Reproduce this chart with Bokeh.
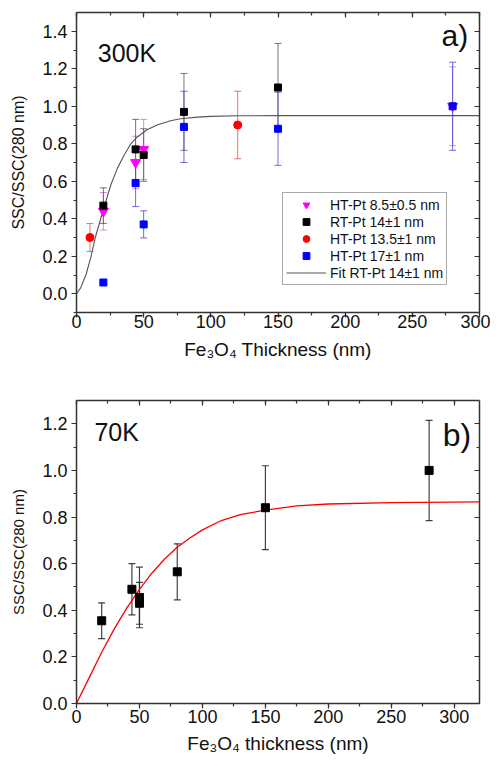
from bokeh.plotting import figure
from bokeh.models import (ColumnDataSource, Whisker, TeeHead, Legend, LegendItem, Label,
                          LinearAxis, Range1d, SingleIntervalTicker, PrintfTickFormatter)
from bokeh.layouts import column
from bokeh.embed import file_html
from bokeh.resources import INLINE

# ---------------- Panel a (300K) data ----------------
ht85_x = [20, 44, 50, 280]
ht85_y = [0.44, 0.70, 0.77, 1.00]
ht85_err = [0.10, 0.14, 0.16, 0.21]

rt14_x = [20, 44, 50, 80, 150]
rt14_y = [0.47, 0.77, 0.74, 0.97, 1.10]
rt14_err = [0.095, 0.16, 0.14, 0.205, 0.235]

ht135_x = [10, 120]
ht135_y = [0.30, 0.90]
ht135_err = [0.075, 0.18]

ht17_x = [20, 44, 50, 80, 150, 280]
ht17_y = [0.06, 0.59, 0.37, 0.89, 0.88, 1.00]
ht17_err = [0.0, 0.125, 0.072, 0.19, 0.195, 0.235]

fit_a_x = [0, 3, 7, 10.5, 14, 18, 20.5, 25.5, 30.5, 35.5, 40, 45, 52.5, 60, 70, 77.5, 90, 100, 120, 150, 200, 300]
fit_a_y = [0.0, 0.03, 0.10, 0.19, 0.30, 0.40, 0.46, 0.58, 0.67, 0.74, 0.795, 0.835, 0.875, 0.90, 0.923, 0.933, 0.942, 0.946, 0.949, 0.95, 0.95, 0.95]

# ---------------- Panel b (70K) data ----------------
b_x = [20, 44, 50, 50, 80, 150, 280]
b_y = [0.355, 0.49, 0.455, 0.43, 0.565, 0.84, 1.00]
b_err = [0.077, 0.11, 0.13, 0.09, 0.12, 0.18, 0.215]

fit_b_x = [0, 10, 20, 30, 40, 50, 60, 70, 80, 90, 100, 115, 130, 150, 175, 200, 250, 320]
fit_b_y = [0, 0.11, 0.22, 0.32, 0.41, 0.49, 0.56, 0.62, 0.67, 0.71, 0.745, 0.785, 0.81, 0.83, 0.848, 0.856, 0.862, 0.865]

FONT = "Liberation Sans"
AXC = "#333333"
TXT = "#111111"


def style(p, xint, yint, xlabel, ylabel_size, x_standoff, x_title_standoff):
    p.xgrid.visible = False
    p.ygrid.visible = False
    p.outline_line_color = None
    p.background_fill_color = "white"
    p.border_fill_color = "white"
    xt = SingleIntervalTicker(interval=xint, num_minor_ticks=2)
    yt = SingleIntervalTicker(interval=yint, num_minor_ticks=2)
    xa = p.xaxis[0]
    ya = p.yaxis[0]
    xa.ticker = xt
    ya.ticker = yt
    ya.formatter = PrintfTickFormatter(format="%.1f")
    for a in (xa, ya):
        a.axis_line_color = AXC
        a.axis_line_width = 1.5
        a.major_tick_line_color = AXC
        a.minor_tick_line_color = AXC
        a.major_tick_line_width = 1.2
        a.minor_tick_line_width = 1.2
        a.major_tick_out = 5
        a.major_tick_in = 0
        a.minor_tick_out = 3
        a.minor_tick_in = 0
        a.major_label_text_font = FONT
        a.major_label_text_font_size = "18px"
        a.major_label_text_color = TXT
        a.axis_label_text_font = FONT
        a.axis_label_text_font_style = "normal"
        a.axis_label_text_color = TXT
    xa.axis_label_text_font_size = "19px"
    ya.axis_label_text_font_size = ylabel_size
    xa.major_label_standoff = x_standoff
    ya.major_label_standoff = 4
    xa.axis_label = xlabel
    ya.axis_label = "SSC/SSC(280 nm)"
    xa.axis_label_standoff = x_title_standoff
    ya.axis_label_standoff = 12
    for loc, tk in (("above", xt), ("right", yt)):
        ax = LinearAxis(ticker=tk, axis_line_color=AXC, axis_line_width=1.5,
                        major_tick_line_color=AXC, minor_tick_line_color=AXC,
                        major_tick_line_width=1.2, minor_tick_line_width=1.2,
                        major_tick_in=5, major_tick_out=0, minor_tick_in=3, minor_tick_out=0,
                        major_label_text_font_size="0px", major_label_text_color=None,
                        major_label_standoff=0)
        p.add_layout(ax, loc)


def errbars(p, xs, ys, errs, color, width=1.0, alpha=0.8):
    xx, up, lo = [], [], []
    for x, y, e in zip(xs, ys, errs):
        if e > 0:
            xx.append(x)
            up.append(y + e)
            lo.append(y - e)
    src = ColumnDataSource(dict(x=xx, upper=up, lower=lo))
    w = Whisker(base="x", upper="upper", lower="lower", source=src, dimension="height",
                line_color=color, line_width=width, line_alpha=alpha,
                upper_head=TeeHead(size=7, line_color=color, line_width=width, line_alpha=alpha),
                lower_head=TeeHead(size=7, line_color=color, line_width=width, line_alpha=alpha))
    p.add_layout(w)


# ---------------- Panel a ----------------
pa = figure(width=490, height=366, x_range=Range1d(0, 300), y_range=Range1d(-0.1, 1.5),
            output_backend="svg", toolbar_location=None,
            min_border_left=76, min_border_right=11, min_border_top=12, min_border_bottom=54)
style(pa, 50, 0.2, "Fe\u2083O\u2084 Thickness (nm)", "16px", -3, 8)

fit_a = pa.line(fit_a_x, fit_a_y, line_color="#555555", line_width=1.1)

errbars(pa, ht85_x, ht85_y, ht85_err, "#d070d8")
errbars(pa, rt14_x, rt14_y, rt14_err, "#555555")
errbars(pa, ht135_x, ht135_y, ht135_err, "#e05050")
errbars(pa, ht17_x, ht17_y, ht17_err, "#4848d0")

r85 = pa.scatter(ht85_x, ht85_y, marker="inverted_triangle", size=10, fill_color="#ff00ff", line_color="#ff00ff")
r14 = pa.scatter(rt14_x, rt14_y, marker="square", size=7, fill_color="black", line_color="black")
r135 = pa.scatter(ht135_x, ht135_y, marker="circle", size=8, fill_color="#ff0000", line_color="#ff0000")
r17 = pa.scatter(ht17_x, ht17_y, marker="square", size=7, fill_color="#0000ff", line_color="#0000ff")

leg = Legend(items=[
    LegendItem(label="HT-Pt 8.5\u00b10.5 nm", renderers=[r85]),
    LegendItem(label="RT-Pt 14\u00b11 nm", renderers=[r14]),
    LegendItem(label="HT-Pt 13.5\u00b11 nm", renderers=[r135]),
    LegendItem(label="HT-Pt 17\u00b11 nm", renderers=[r17]),
    LegendItem(label="Fit RT-Pt 14\u00b11 nm", renderers=[fit_a]),
], location=(206, 27), label_text_font=FONT, label_text_font_size="14px",
    label_text_color=TXT, glyph_width=40, glyph_height=17, label_height=17,
    label_standoff=4, spacing=0, padding=3, margin=0,
    border_line_color="#555555", border_line_width=1, background_fill_alpha=1.0)
pa.add_layout(leg, "center")

pa.add_layout(Label(x=15.8, y=1.283, text="300K", text_font=FONT, text_font_size="25px",
                    text_baseline="middle", text_color=TXT))
pa.add_layout(Label(x=271.8, y=1.378, text="a)", text_font=FONT, text_font_size="30px",
                    text_baseline="middle", text_color=TXT))

# ---------------- Panel b ----------------
pb = figure(width=490, height=398, x_range=Range1d(0, 320), y_range=Range1d(0, 1.3),
            output_backend="svg", toolbar_location=None,
            min_border_left=74, min_border_right=9, min_border_top=34, min_border_bottom=61)
style(pb, 50, 0.2, "Fe\u2083O\u2084 thickness (nm)", "15px", 1, 7)

pb.line(fit_b_x, fit_b_y, line_color="#ff0000", line_width=1.3)
errbars(pb, b_x, b_y, b_err, "#222222", width=1.2, alpha=0.85)
pb.scatter(b_x, b_y, marker="square", size=8, fill_color="black", line_color="black")

pb.add_layout(Label(x=14.2, y=1.163, text="70K", text_font=FONT, text_font_size="25px",
                    text_baseline="middle", text_color=TXT))
pb.add_layout(Label(x=290.8, y=1.153, text="b)", text_font=FONT, text_font_size="32px",
                    text_baseline="middle", text_color=TXT))

layout = column(pa, pb, spacing=0)
open("out.html", "w").write(file_html(layout, INLINE))
